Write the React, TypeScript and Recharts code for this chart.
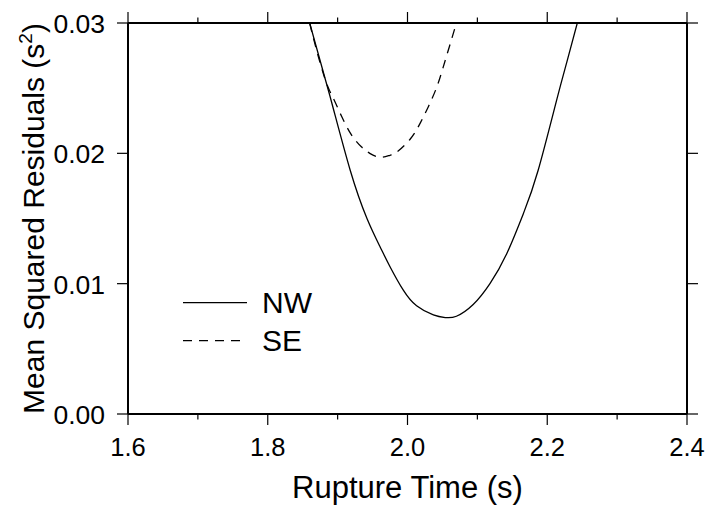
import { LineChart, Line, XAxis, YAxis, Legend } from "recharts";

const FONT = "'Liberation Sans', Arial, Helvetica, sans-serif";

// rupture time (s) vs mean squared residuals (s^2)
const nwTime = [1.86, 1.889, 1.918, 1.942, 1.961, 1.975, 1.994, 2.013, 2.037, 2.054, 2.07, 2.094, 2.118, 2.142, 2.166, 2.187, 2.214, 2.228, 2.243];
const nwMsr = [0.03, 0.0244, 0.0187, 0.015, 0.0128, 0.0113, 0.0095, 0.0083, 0.0076, 0.0074, 0.0075, 0.0084, 0.01, 0.0123, 0.0154, 0.0187, 0.0242, 0.027, 0.03];

const seTime = [1.86, 1.8675, 1.882, 1.894, 1.906, 1.92, 1.934, 1.946, 1.961, 1.975, 1.985, 2.004, 2.018, 2.03, 2.042, 2.051, 2.06, 2.07];
const seMsr = [0.03, 0.0284, 0.0257, 0.0242, 0.0228, 0.0214, 0.0205, 0.02, 0.0197, 0.01985, 0.0201, 0.0211, 0.0223, 0.0236, 0.0251, 0.0266, 0.0282, 0.03];

const xTicks = [1.6, 1.7, 1.8, 1.9, 2.0, 2.1, 2.2, 2.3, 2.4];
const yTicks = [0, 0.01, 0.02, 0.03];

const nwData = nwTime.map((t, i) => ({ t, v: nwMsr[i] }));
const seData = seTime.map((t, i) => ({ t, v: seMsr[i] }));

const series = [
  { name: "NW", data: nwData, dash: undefined as string | undefined },
  { name: "SE", data: seData, dash: "9 7" },
];

const isMajorX = (v: number) => Math.round(v * 10) % 2 === 0;

const BottomTick = ({ x, y, payload }: any) => {
  const major = isMajorX(payload.value);
  return (
    <g>
      <line x1={x} y1={y} x2={x} y2={y + (major ? 11 : 5.5)} stroke="#000" strokeWidth={1.2} />
      {major && (
        <text x={x} y={y + 42} textAnchor="middle" fontSize={25.5} fill="#000" fontFamily={FONT}>
          {payload.value.toFixed(1)}
        </text>
      )}
    </g>
  );
};

const TopTick = ({ x, y, payload }: any) => {
  const major = isMajorX(payload.value);
  return <line x1={x} y1={y} x2={x} y2={y - (major ? 11 : 5.5)} stroke="#000" strokeWidth={1.2} />;
};

const LeftTick = ({ x, y, payload }: any) => (
  <g>
    <line x1={x} y1={y} x2={x - 11} y2={y} stroke="#000" strokeWidth={1.2} />
    <text x={x - 23} y={y + 1} textAnchor="end" dominantBaseline="central" fontSize={26.5} fill="#000" fontFamily={FONT}>
      {payload.value.toFixed(2)}
    </text>
  </g>
);

const RightTick = ({ x, y }: any) => (
  <line x1={x} y1={y} x2={x + 11} y2={y} stroke="#000" strokeWidth={1.2} />
);

const renderLegend = () => (
  <svg width={160} height={80}>
    {series.map((s, i) => (
      <g key={s.name}>
        <line x1={8} x2={72} y1={17.7 + i * 38} y2={17.7 + i * 38} stroke="#000" strokeWidth={1.3} strokeDasharray={s.dash} />
        <text x={87} y={28.3 + i * 38} fontSize={30} fill="#000" fontFamily={FONT}>
          {s.name}
        </text>
      </g>
    ))}
  </svg>
);

export default function App() {
  return (
    <div style={{ position: "absolute", left: 0, top: 0, background: "#fff" }}>
      <LineChart width={707} height={505} margin={{ top: 0, right: 6, bottom: 0, left: 0 }}>
        <XAxis
          xAxisId="bottom"
          dataKey="t"
          type="number"
          domain={[1.6, 2.4]}
          ticks={xTicks}
          interval={0}
          height={91}
          allowDataOverflow
          axisLine={{ stroke: "#000", strokeWidth: 2 }}
          tickLine={false}
          tickSize={0}
          tickMargin={0}
          tick={(p: any) => <BottomTick {...p} />}
          label={{
            content: () => (
              <text x={407.5} y={498} textAnchor="middle" fontSize={31} fill="#000" fontFamily={FONT}>
                Rupture Time (s)
              </text>
            ),
          }}
        />
        <XAxis
          xAxisId="top"
          orientation="top"
          dataKey="t"
          type="number"
          domain={[1.6, 2.4]}
          ticks={xTicks}
          interval={0}
          height={23}
          allowDataOverflow
          axisLine={{ stroke: "#000", strokeWidth: 2 }}
          tickLine={false}
          tickSize={0}
          tickMargin={0}
          tick={(p: any) => <TopTick {...p} />}
        />
        <YAxis
          yAxisId="left"
          type="number"
          domain={[0, 0.03]}
          ticks={yTicks}
          interval={0}
          width={128}
          allowDataOverflow
          axisLine={{ stroke: "#000", strokeWidth: 2 }}
          tickLine={false}
          tickSize={0}
          tickMargin={0}
          tick={(p: any) => <LeftTick {...p} />}
          label={{
            content: () => (
              <text
                x={44}
                y={218.5}
                transform="rotate(-90, 44, 218.5)"
                textAnchor="middle"
                fontSize={30}
                fill="#000"
                fontFamily={FONT}
              >
                Mean Squared Residuals (s
                <tspan dy={-12} fontSize={19}>2</tspan>
                <tspan dy={12}>)</tspan>
              </text>
            ),
          }}
        />
        <YAxis
          yAxisId="right"
          orientation="right"
          type="number"
          domain={[0, 0.03]}
          ticks={yTicks}
          interval={0}
          width={14}
          allowDataOverflow
          axisLine={{ stroke: "#000", strokeWidth: 2 }}
          tickLine={false}
          tickSize={0}
          tickMargin={0}
          tick={(p: any) => <RightTick {...p} />}
        />
        <Legend
          layout="vertical"
          align="center"
          verticalAlign="middle"
          content={renderLegend}
          wrapperStyle={{ left: 175, top: 285, width: 160, height: 80 }}
        />
        {series.map((s) => (
          <Line
            key={s.name}
            name={s.name}
            data={s.data}
            dataKey="v"
            xAxisId="bottom"
            yAxisId="left"
            type="natural"
            stroke="#000"
            strokeWidth={1.3}
            strokeDasharray={s.dash}
            dot={false}
            activeDot={false}
            isAnimationActive={false}
          />
        ))}
      </LineChart>
    </div>
  );
}
